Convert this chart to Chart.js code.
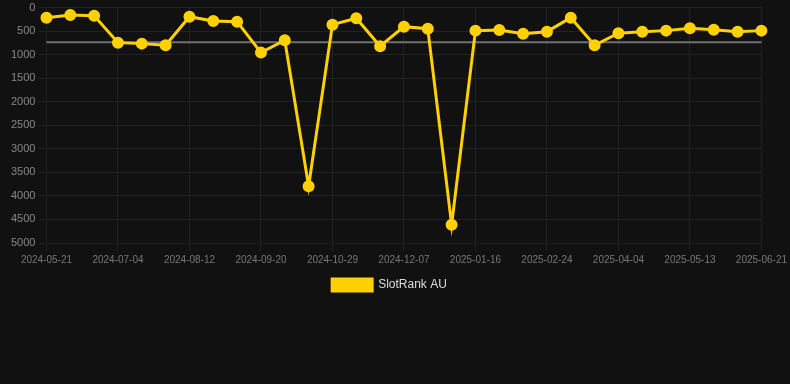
<!DOCTYPE html>
<html>
<head>
<meta charset="utf-8">
<script src="https://cdn.jsdelivr.net/npm/chart.js@4/dist/chart.umd.min.js"></script>
<style>
    html, body { margin: 0; padding: 0; background: #111111; }
    #wrap { width: 790px; height: 301px; position: relative; }
</style>
</head>
<body>
<div id="wrap"><canvas id="rankChart"></canvas></div>
<script>
// даты точек
const labels = ['2024-05-21', '2024-06-04', '2024-06-19', '2024-07-04', '2024-07-17', '2024-07-30',
    '2024-08-12', '2024-08-25', '2024-09-07', '2024-09-20', '2024-10-03', '2024-10-16',
    '2024-10-29', '2024-11-11', '2024-11-24', '2024-12-07', '2024-12-20', '2025-01-03',
    '2025-01-16', '2025-01-29', '2025-02-11', '2025-02-24', '2025-03-09', '2025-03-22',
    '2025-04-04', '2025-04-17', '2025-04-30', '2025-05-13', '2025-05-26', '2025-06-08',
    '2025-06-21'];
// позиция в рейтинге
const rankAU = [216, 159, 174, 746, 767, 801, 195, 286, 301, 958, 695, 3795, 364, 229, 822, 407,
    449, 4612, 491, 477, 555, 513, 216, 801, 547, 513, 491, 441, 470, 513, 491];
// средняя линия
const averageAU = [737, 737, 737, 737, 737, 737, 737, 737, 737, 737, 737, 737, 737, 737, 737, 737,
    737, 737, 737, 737, 737, 737, 737, 737, 737, 737, 737, 737, 737, 737, 737];
const yTicks = { min: 0, max: 5000, step: 500 };

document.addEventListener('DOMContentLoaded', function () {
    let ctx = document.getElementById('rankChart').getContext('2d');
    const yellow = '#FFD100';

    new Chart(ctx, {
        type: 'line',
        data: {
            labels: labels,
            datasets: [{
                label: 'SlotRank AU',
                data: rankAU,
                borderColor: yellow,
                backgroundColor: yellow,
                pointBackgroundColor: yellow,
                pointBorderColor: yellow,
                borderWidth: 3,
                pointRadius: 4.5,
                tension: 0
            }, {
                label: 'average',
                data: averageAU,
                borderColor: '#707070',
                borderWidth: 2,
                pointRadius: 0,
                tension: 0
            }]
        },
        options: {
            responsive: true,
            maintainAspectRatio: false,
            animation: false,
            devicePixelRatio: 1,
            layout: {
                padding: { left: 8, right: 19 } // отступы, легенда чуть левее центра
            },
            scales: {
                x: {
                    grid: { color: '#222222' },
                    ticks: {
                        color: '#777777',
                        font: { family: 'Liberation Sans, Arial', size: 10 },
                        maxRotation: 0,
                        autoSkip: true,
                        callback: function (v, i) { return i % 3 === 0 ? labels[i] : null; }
                    }
                },
                y: {
                    reverse: true,
                    min: yTicks.min,
                    max: yTicks.max,
                    grid: { color: '#222222' },
                    ticks: {
                        stepSize: yTicks.step,
                        color: '#888888',
                        font: { family: 'Liberation Sans, Arial', size: 11, lineHeight: 0.7 },
                        callback: function (v) { return String(v); }
                    }
                }
            },
            plugins: {
                tooltip: { enabled: false },
                legend: {
                    position: 'bottom',
                    labels: {
                        color: '#dddddd',
                        boxWidth: 40,
                        boxHeight: 12,
                        font: { family: 'Liberation Sans, Arial', size: 12 },
                        filter: function (item) { return item.datasetIndex === 0; }
                    }
                }
            }
        }
    });
});
</script>
</body>
</html>
